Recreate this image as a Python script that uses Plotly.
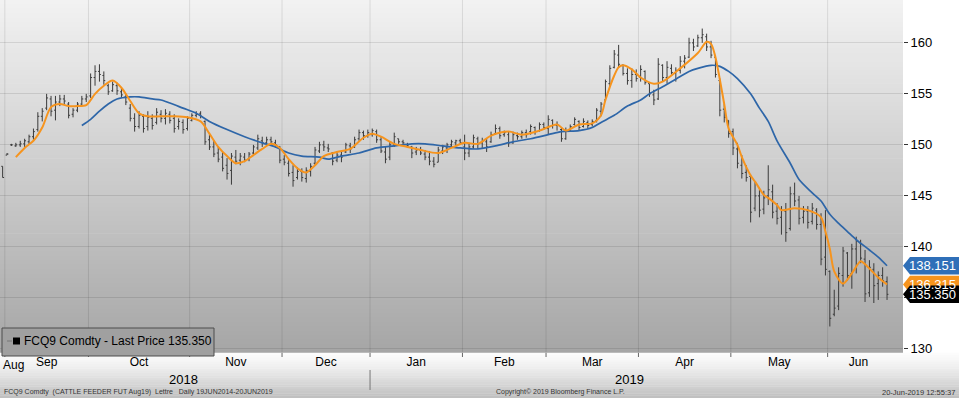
import pandas as pd
import plotly.graph_objects as go

# ---------------- data ----------------
holidays = ["2018-09-03", "2018-11-22", "2018-12-25", "2019-01-01",
            "2019-01-21", "2019-02-18", "2019-04-19", "2019-05-27"]
sessions = [d for d in pd.bdate_range("2018-08-30", "2019-06-20")
            if d.strftime("%Y-%m-%d") not in holidays]

opens = [
    147.5, 147.9, 149.0, 150.0, 149.9, 150.0, 150.1, 150.3, 150.8, 151.5, 152.8, 153.6, 154.5, 153.4, 154.2, 154.5, 154.0, 153.0, 153.4, 154.0, 154.5,
    154.8, 156.6, 157.2, 156.8, 155.8, 155.3, 155.8, 155.2, 154.7, 153.6, 152.6, 151.8, 152.8, 151.8, 152.6, 152.2, 153.0, 152.6, 153.0, 152.6, 151.8, 152.2, 151.6,
    152.4, 152.9, 153.1, 152.3, 150.5, 149.8, 149.2, 148.8, 148.0, 147.5, 148.8, 148.5, 148.8, 148.6, 149.2, 149.7, 150.4, 150.2, 150.5, 150.2, 149.8,
    148.6, 148.2, 147.3, 146.8, 147.4, 146.7, 147.4, 148.2, 149.4, 150.0, 149.7, 149.2, 148.5, 149.0, 149.3, 149.9, 149.8, 150.6, 151.2, 150.9,
    151.0, 151.3, 150.5, 149.3, 148.8, 150.0, 150.6, 150.3, 150.0, 149.8, 149.3, 149.5, 149.1, 148.8, 148.4, 148.3, 149.4, 149.7, 150.0, 150.2, 150.4,
    149.8, 149.2, 149.8, 150.6, 150.2, 150.3, 150.3, 151.1, 151.6, 151.0, 151.0, 150.2, 150.9, 150.8, 151.2, 151.3, 151.7, 151.4, 152.0,
    151.6, 152.4, 151.9, 151.5, 150.6, 151.4, 152.0, 152.3, 151.8, 152.2, 152.0, 152.4, 153.3, 154.4, 156.0, 157.6, 158.8, 157.8, 157.0, 156.3, 156.9,
    156.6, 157.2, 156.0, 154.9, 154.5, 157.8, 156.6, 157.5, 157.0, 157.3, 158.2, 158.6, 160.0, 159.7, 160.5, 160.6, 159.6, 158.6, 156.3, 153.5, 152.4,
    151.3, 149.6, 148.0, 147.3, 146.9, 143.8, 145.0, 143.7, 145.0, 145.4, 143.5, 142.9, 143.5, 141.8, 145.2, 144.6, 142.9, 143.5, 142.5, 143.6, 142.2, 139.0,
    137.6, 133.4, 134.2, 137.2, 139.4, 137.4, 139.8, 140.4, 138.8, 135.5, 137.8, 136.4, 137.2, 136.6,
]
highs = [
    147.8, 147.9, 149.2, 150.1, 150.2, 150.4, 150.6, 151.0, 151.6, 153.2, 153.6, 155.0, 154.8, 154.8, 154.9, 154.9, 154.2, 153.6, 154.2, 154.8, 155.0,
    157.0, 157.8, 157.9, 157.2, 156.0, 156.2, 156.1, 155.6, 155.0, 154.0, 153.1, 153.3, 153.0, 153.3, 153.0, 153.6, 153.4, 153.5, 153.3, 153.0, 152.6, 152.5, 152.8,
    153.1, 153.3, 153.3, 152.4, 151.0, 150.4, 149.8, 149.3, 148.7, 149.2, 149.5, 149.2, 149.2, 149.3, 150.0, 151.0, 150.8, 150.8, 150.8, 150.5, 149.9,
    149.0, 148.5, 148.0, 147.8, 147.7, 147.8, 148.2, 149.8, 150.3, 150.4, 150.1, 149.3, 149.4, 149.4, 150.2, 150.2, 150.8, 151.5, 151.4, 151.5,
    151.6, 151.5, 150.8, 149.8, 150.3, 151.2, 150.6, 150.5, 150.2, 149.9, 149.8, 149.8, 149.5, 149.4, 148.8, 149.8, 150.0, 150.2, 150.5, 150.5, 150.6,
    151.0, 150.2, 151.0, 150.8, 150.7, 150.6, 151.3, 152.0, 151.8, 151.4, 151.3, 151.3, 151.2, 151.4, 151.5, 152.0, 151.8, 152.2, 152.2,
    152.9, 152.5, 152.3, 151.7, 151.7, 152.0, 152.7, 152.4, 152.6, 152.4, 152.5, 153.6, 154.2, 156.4, 157.8, 159.3, 159.8, 157.9, 157.5, 157.5, 157.4,
    157.8, 157.3, 156.0, 155.4, 158.5, 157.9, 158.2, 157.9, 157.6, 158.7, 158.8, 160.5, 160.4, 160.8, 161.4, 160.9, 160.2, 158.6, 156.5, 154.0, 152.4,
    151.6, 150.2, 149.0, 148.0, 147.1, 146.4, 145.8, 145.5, 148.0, 146.1, 144.3, 144.0, 144.3, 145.9, 146.3, 145.0, 144.0, 144.0, 144.3, 143.8, 143.3, 143.6,
    137.7, 135.8, 138.0, 140.0, 139.5, 140.3, 141.0, 140.7, 139.7, 138.7, 138.4, 137.6, 138.0, 137.1,
]
lows = [
    147.3, 146.8, 149.0, 149.9, 149.8, 149.8, 149.8, 150.0, 150.5, 151.3, 152.3, 153.4, 152.8, 152.4, 153.8, 154.0, 152.6, 152.7, 153.2, 153.9, 154.2,
    154.6, 155.8, 156.2, 155.9, 154.9, 155.2, 154.9, 154.6, 153.9, 152.3, 151.3, 151.6, 151.2, 151.4, 151.5, 152.0, 152.2, 152.0, 152.1, 151.2, 151.5, 151.1, 151.4,
    152.3, 152.7, 152.6, 150.0, 149.5, 148.8, 148.3, 147.4, 146.6, 146.1, 148.1, 148.0, 148.3, 148.4, 149.0, 149.5, 149.8, 150.0, 149.9, 149.7, 148.2,
    148.0, 146.9, 145.9, 146.6, 146.4, 146.3, 146.9, 148.0, 149.2, 149.4, 149.3, 148.0, 148.3, 148.3, 149.2, 149.2, 149.7, 150.4, 150.5, 150.7,
    150.8, 150.2, 149.2, 148.2, 148.5, 149.8, 150.1, 150.0, 149.7, 148.7, 149.0, 149.0, 148.5, 148.0, 147.8, 148.3, 149.1, 149.2, 149.7, 149.9, 150.0,
    148.5, 148.8, 149.6, 149.6, 149.7, 149.3, 150.2, 151.0, 150.6, 150.8, 149.8, 150.1, 150.5, 150.6, 150.7, 151.0, 151.0, 151.3, 151.5,
    151.0, 151.6, 151.4, 150.3, 150.5, 151.3, 151.9, 151.4, 151.7, 151.6, 151.8, 152.2, 152.8, 154.2, 155.7, 157.5, 157.6, 156.8, 155.9, 155.6, 156.2,
    156.2, 155.9, 154.7, 153.9, 154.4, 156.2, 156.0, 156.9, 156.2, 157.0, 157.5, 158.5, 159.2, 159.6, 160.0, 159.2, 158.5, 156.6, 152.8, 152.2, 150.7,
    149.0, 147.7, 146.7, 146.4, 142.4, 143.5, 142.9, 143.2, 144.1, 142.8, 142.2, 141.2, 140.5, 141.6, 144.0, 142.2, 142.3, 141.8, 142.2, 141.7, 138.2, 137.2,
    132.2, 133.2, 133.8, 136.1, 136.7, 135.9, 137.4, 138.4, 134.6, 135.1, 134.5, 134.8, 136.1, 134.8,
]
closes = [
    147.5, 146.8, 149.1, 150.0, 150.0, 150.1, 150.4, 150.8, 151.3, 152.8, 153.3, 154.6, 153.3, 154.2, 154.5, 154.3, 152.9, 153.4, 154.0, 154.5, 154.7,
    156.6, 157.2, 156.9, 156.3, 155.2, 155.9, 155.3, 154.9, 154.2, 152.6, 151.8, 152.9, 151.6, 152.7, 151.9, 153.2, 152.6, 153.1, 152.4, 151.6, 152.3, 151.5, 152.6,
    152.9, 153.0, 152.8, 150.3, 149.8, 149.1, 148.6, 147.7, 147.2, 148.9, 148.4, 148.9, 148.5, 149.1, 149.8, 150.6, 150.2, 150.5, 150.3, 150.0, 148.5,
    148.3, 147.2, 146.5, 147.4, 146.8, 147.5, 147.9, 149.5, 150.0, 149.8, 149.6, 148.4, 149.0, 148.8, 150.0, 149.6, 150.5, 151.2, 150.9, 151.2,
    151.4, 150.5, 149.4, 148.6, 150.0, 150.8, 150.3, 150.2, 149.9, 149.2, 149.5, 149.2, 148.8, 148.4, 148.1, 149.5, 149.8, 150.0, 150.3, 150.4, 150.2,
    149.2, 149.8, 150.7, 150.1, 150.4, 149.8, 151.0, 151.6, 150.9, 151.2, 150.2, 151.0, 150.8, 151.2, 151.0, 151.8, 151.3, 152.0, 151.7,
    152.5, 151.9, 152.0, 150.6, 151.4, 151.8, 152.5, 151.7, 152.3, 151.9, 152.3, 153.4, 154.0, 156.2, 157.5, 158.9, 157.9, 157.0, 156.3, 156.9, 156.5,
    157.4, 156.1, 155.0, 154.4, 157.9, 156.6, 157.6, 157.1, 157.3, 158.2, 158.5, 160.0, 159.6, 160.5, 160.8, 159.6, 158.8, 156.9, 153.4, 152.7, 151.1,
    149.7, 148.2, 147.2, 146.8, 143.4, 145.0, 143.6, 144.8, 145.6, 143.4, 142.8, 143.6, 141.4, 145.2, 144.5, 142.8, 143.5, 142.4, 143.8, 142.2, 138.8, 137.8,
    133.0, 134.0, 137.4, 139.6, 137.2, 139.8, 140.6, 138.9, 135.4, 138.0, 136.2, 137.2, 136.7, 135.35,
]

# moving averages (session number -> value)
fast_ma_idx = [4, 6, 8, 10, 12, 14, 16, 18, 20, 22, 24, 26, 28, 30, 32, 34, 37, 40, 43, 46,
               48, 50, 52, 54, 56, 58, 60, 62, 64, 66, 68, 70, 72, 74, 77, 80, 83, 85, 87, 90,
               93, 96, 100, 103, 106, 109, 112, 116, 119, 123, 127, 129, 132, 135, 137, 138, 140, 141, 142, 144,
               146, 149, 151, 155, 159, 161, 162, 163, 165, 166, 168, 169, 171, 172, 174, 175, 177, 178, 181, 184,
               187, 188, 189, 190, 192, 194, 196, 197, 200, 202]
fast_ma_val = [148.8, 149.7, 150.4, 151.7, 153.7, 154.0, 153.8, 153.8, 153.9, 155.0,
               155.8, 156.3, 155.6, 154.3, 153.1, 152.8, 152.8, 152.8, 152.7, 152.3,
               151.1, 149.8, 148.9, 148.2, 148.4, 149.0, 149.6, 150.1, 149.7, 148.6,
               147.7, 147.3, 148.0, 148.9, 149.3, 149.6, 150.7, 151.1, 150.8, 150.1,
               149.8, 149.5, 149.2, 149.7, 150.2, 150.1, 150.9, 151.3, 151.0, 151.4,
               152.0, 151.4, 152.0, 152.1, 152.9, 154.4, 156.8, 157.6, 157.8, 157.4,
               156.6, 156.0, 156.2, 157.5, 159.0, 160.1, 159.9, 158.6, 154.0, 151.6,
               150.0, 148.8, 147.0, 146.4, 145.1, 144.8, 144.1, 143.6, 143.8, 143.6,
               142.9, 141.5, 139.8, 137.6, 136.4, 137.4, 138.6, 138.3, 137.0, 136.315]
slow_ma_idx = [19, 21, 23, 25, 27, 30, 32, 35, 37, 39, 42, 45, 48, 52, 56, 60, 63, 66, 69, 73,
               75, 78, 82, 86, 90, 94, 97, 101, 105, 109, 113, 117, 121, 125, 128, 132, 135, 137, 140, 143,
               146, 148, 151, 155, 157, 159, 162, 164, 166, 168, 171, 173, 175, 177, 180, 182, 185, 187, 189, 191,
               193, 195, 198, 200, 202]
slow_ma_val = [151.9, 152.5, 153.3, 154.0, 154.5, 154.7, 154.7, 154.5, 154.4, 154.1,
               153.6, 153.1, 152.3, 151.5, 150.8, 150.2, 149.8, 149.2, 148.9, 148.8,
               148.6, 148.9, 149.2, 149.7, 149.9, 150.1, 150.1, 149.9, 149.7, 149.6,
               149.9, 150.3, 150.6, 151.0, 151.3, 151.4, 151.7, 152.2, 152.9, 153.8,
               154.4, 155.0, 155.7, 156.7, 157.2, 157.5, 157.8, 157.7, 157.2, 156.5,
               155.0, 153.6, 152.3, 150.4, 148.2, 146.6, 145.3, 144.5, 143.2, 142.3,
               141.5, 140.7, 139.7, 139.0, 138.151]

y_ticks = [130, 135, 140, 145, 150, 155, 160]
last_price = closes[-1]
last_fast = fast_ma_val[-1]
last_slow = slow_ma_val[-1]

assert len(opens) == len(highs) == len(lows) == len(closes) == len(sessions)

# ---------------- geometry helpers ----------------
W, H = 959, 398
ML, MR, MT, MB = 0, 56, 0, 45
PW, PH = W - ML - MR, H - MT - MB
px = lambda p: p / PW          # pixel -> paper x
py = lambda p: (PH - p) / PH   # pixel (from top) -> paper y

xi = list(range(len(sessions)))

# month groups
groups = []
for i, d in enumerate(sessions):
    key = (d.year, d.month)
    if not groups or groups[-1][0] != key:
        groups.append([key, d.strftime("%b"), []])
    groups[-1][2].append(i)
bounds = [g[2][0] - 0.5 for g in groups[1:]]
tickvals = [sum(g[2]) / len(g[2]) for g in groups[1:]]
ticktext = [g[1] for g in groups[1:]]
year_idx = {}
for i, d in enumerate(sessions):
    year_idx.setdefault(d.year, []).append(i)
year_sep = year_idx[2019][0] - 0.5

FONT = "Liberation Sans, Arial, sans-serif"

fig = go.Figure()
fig.add_trace(go.Ohlc(
    x=xi, open=opens, high=highs, low=lows, close=closes,
    increasing=dict(line=dict(color="#3a3a3a", width=1)),
    decreasing=dict(line=dict(color="#3a3a3a", width=1)),
    tickwidth=0.32, hoverinfo="skip", showlegend=False))
fig.add_trace(go.Scatter(x=slow_ma_idx, y=slow_ma_val, mode="lines",
                         line=dict(color="#2e66a8", width=1.7, shape="spline", smoothing=0.8),
                         hoverinfo="skip", showlegend=False))
fig.add_trace(go.Scatter(x=fast_ma_idx, y=fast_ma_val, mode="lines",
                         line=dict(color="#f6941e", width=2, shape="spline", smoothing=0.8),
                         hoverinfo="skip", showlegend=False))

shapes = []
# plot background gradient
N = 80
for k in range(N):
    t = (k + 0.5) / N  # 0 bottom -> 1 top
    c = int(166 + (243 - 166) * t)
    shapes.append(dict(type="rect", xref="paper", yref="paper", x0=0, x1=1,
                       y0=k / N, y1=(k + 1) / N + 0.002, layer="below",
                       line=dict(width=0), fillcolor=f"rgb({c},{c},{c})"))
# bottom strip gradient
NB = 20
for k in range(NB):
    t = (k + 0.5) / NB  # 0 top -> 1 bottom
    c = int(253 - (253 - 190) * t ** 1.3)
    y0 = py(PH + MB * k / NB)
    y1 = py(PH + MB * (k + 1) / NB)
    shapes.append(dict(type="rect", xref="paper", yref="paper", x0=0, x1=W / PW,
                       y0=y1, y1=y0 + 0.001, layer="below",
                       line=dict(width=0), fillcolor=f"rgb({c},{c},{c})"))
# vertical month gridlines and tick marks
for b in bounds:
    shapes.append(dict(type="line", xref="x", yref="paper", x0=b, x1=b, y0=0, y1=1,
                       layer="below", line=dict(color="rgba(0,0,0,0.10)", width=1)))
    shapes.append(dict(type="line", xref="x", yref="paper", x0=b, x1=b, y0=0, y1=py(PH + 4),
                       layer="above", line=dict(color="#666", width=1)))
# year separator
shapes.append(dict(type="line", xref="x", yref="paper", x0=year_sep, x1=year_sep,
                   y0=py(370), y1=py(390), line=dict(color="#777", width=1)))
# legend box
shapes.append(dict(type="rect", xref="paper", yref="paper", x0=px(2), x1=px(214),
                   y0=py(356), y1=py(328), line=dict(color="#4d4d4d", width=1),
                   fillcolor="rgb(160,160,160)", layer="above"))
shapes.append(dict(type="line", xref="paper", yref="paper", x0=px(7), x1=px(12),
                   y0=py(341), y1=py(341), line=dict(color="#777", width=1)))
shapes.append(dict(type="rect", xref="paper", yref="paper", x0=px(13), x1=px(20),
                   y0=py(344.5), y1=py(337.5), line=dict(width=0), fillcolor="#000"))

# price tags
tags = [(last_slow, f"{last_slow:.3f}", "#2f6fb8", "white"),
        (last_fast, f"{last_fast:.3f}", "#f7941d", "white"),
        (last_price, f"{last_price:.3f}", "#000000", "white")]
HH = 0.86
annotations = []
for v, txt, bg, fc in tags:
    shapes.append(dict(type="path", xref="paper", yref="y",
                       path=f"M {px(903)},{v} L {px(910)},{v + HH} L {px(W)},{v + HH} L {px(W)},{v - HH} L {px(910)},{v - HH} Z",
                       line=dict(width=0), fillcolor=bg, layer="above"))
    annotations.append(dict(xref="paper", yref="y", x=px(957), y=v, xanchor="right",
                            yanchor="middle", text=txt, showarrow=False, borderpad=0,
                            font=dict(family=FONT, size=13, color=fc)))

annotations += [
    dict(xref="paper", yref="paper", x=px(13), y=py(365), yanchor="middle", xanchor="center",
         text="Aug", showarrow=False, font=dict(family=FONT, size=12, color="#000")),
    dict(xref="x", yref="paper", x=sum(year_idx[2018]) / len(year_idx[2018]), y=py(380),
         yanchor="middle", text="2018", showarrow=False,
         font=dict(family=FONT, size=13, color="#000")),
    dict(xref="x", yref="paper", x=sum(year_idx[2019]) / len(year_idx[2019]), y=py(380),
         yanchor="middle", text="2019", showarrow=False,
         font=dict(family=FONT, size=13, color="#000")),
    dict(xref="paper", yref="paper", x=px(2), y=py(392), xanchor="left", yanchor="middle",
         text="FCQ9 Comdty  (CATTLE FEEDER FUT Aug19)  Lettre   Daily 19JUN2014-20JUN2019",
         showarrow=False, font=dict(family=FONT, size=7, color="#333")),
    dict(xref="paper", yref="paper", x=px(560), y=py(392), xanchor="center", yanchor="middle",
         text="Copyright\u00a9 2019 Bloomberg Finance L.P.", showarrow=False,
         font=dict(family=FONT, size=7, color="#333")),
    dict(xref="paper", yref="paper", x=px(957), y=py(392), xanchor="right", yanchor="middle",
         text="20-Jun-2019 12:55:37", showarrow=False,
         font=dict(family=FONT, size=7.5, color="#333")),
    dict(xref="paper", yref="paper", x=px(22), y=py(341), xanchor="left", yanchor="middle",
         text=f"FCQ9 Comdty - Last Price {last_price:.3f}", showarrow=False,
         font=dict(family=FONT, size=12, color="#000")),
]

fig.update_layout(
    width=W, height=H, margin=dict(l=ML, r=MR, t=MT, b=MB),
    paper_bgcolor="white", plot_bgcolor="rgba(0,0,0,0)",
    shapes=shapes, annotations=annotations, showlegend=False,
    xaxis=dict(range=[0.4, 0.4 + PW / 4.4], showgrid=False, zeroline=False, showline=False,
               tickvals=tickvals, ticktext=ticktext, ticks="",
               tickfont=dict(family=FONT, size=12, color="#000"),
               rangeslider=dict(visible=False), fixedrange=True),
    yaxis=dict(side="right", range=[129.6, 164.2], tickvals=y_ticks,
               showgrid=True, gridcolor="rgba(0,0,0,0.10)", gridwidth=1,
               zeroline=False, showline=False, ticks="outside", ticklen=4,
               tickcolor="#333", tickfont=dict(family=FONT, size=13, color="#000"),
               fixedrange=True),
)

fig.write_html("out.html", config={"displayModeBar": False},
               post_script="document.body.style.margin='0';document.body.style.overflow='hidden';")
